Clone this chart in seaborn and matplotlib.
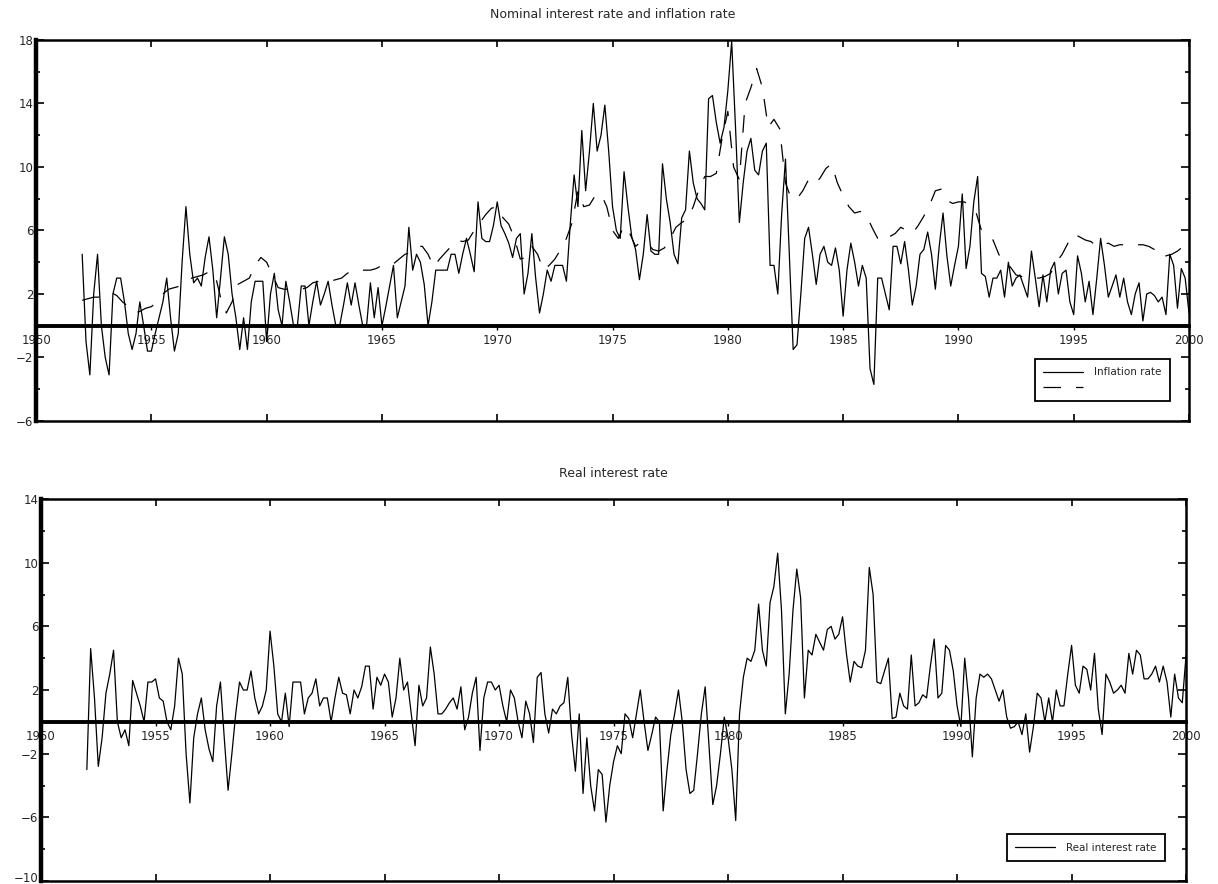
import numpy as np
import pandas as pd
import matplotlib
matplotlib.use("Agg")
import matplotlib.pyplot as plt
import matplotlib.transforms as mtransforms
import seaborn as sns

start_year = 1952
inflation = [
    4.5, -1.0, -3.1, 2.0, 4.5, 0.0, -2.0, -3.1, 2.0, 3.0,
    3.0, 1.5, -0.5, -1.5, -0.5, 1.5, 0.0, -1.6, -1.6, -0.5,
    0.5, 1.5, 3.0, 0.5, -1.6, -0.5, 4.0, 7.5, 4.5, 2.7,
    3.0, 2.5, 4.3, 5.6, 3.5, 0.5, 3.0, 5.6, 4.5, 2.0,
    0.5, -1.5, 0.5, -1.5, 1.5, 2.8, 2.8, 2.8, -1.0, 2.0,
    3.3, 1.0, 0.0, 2.8, 1.5, 0.0, 0.0, 2.5, 2.5, 0.0,
    1.5, 2.8, 1.3, 2.0, 2.8, 1.3, 0.0, 0.0, 1.3, 2.7,
    1.3, 2.7, 1.3, 0.0, 0.0, 2.7, 0.5, 2.4, 0.0, 1.2,
    2.5, 3.8, 0.5, 1.5, 2.5, 6.2, 3.5, 4.5, 4.0, 2.6,
    0.0, 1.5, 3.5, 3.5, 3.5, 3.5, 4.5, 4.5, 3.3, 4.5,
    5.5, 4.5, 3.4, 7.8, 5.5, 5.3, 5.3, 6.3, 7.8, 6.3,
    5.8, 5.2, 4.3, 5.5, 5.8, 2.0, 3.3, 5.8, 3.0, 0.8,
    2.0, 3.5, 2.8, 3.8, 3.8, 3.8, 2.8, 6.4, 9.5, 7.5,
    12.3, 8.5, 11.0, 14.0, 11.0, 12.0, 13.9, 11.0, 7.5, 6.0,
    5.5, 9.7, 7.5, 5.6, 4.8, 2.9, 4.5, 7.0, 4.7, 4.5,
    4.5, 10.2, 8.0, 6.5, 4.5, 3.9, 6.8, 7.3, 11.0, 9.0,
    8.0, 7.7, 7.3, 14.3, 14.5, 12.8, 11.5, 12.5, 14.8, 17.9,
    12.5, 6.5, 9.0, 11.0, 11.8, 9.8, 9.5, 11.0, 11.5, 3.8,
    3.8, 2.0, 7.0, 10.5, 4.5, -1.5, -1.2, 2.0, 5.5, 6.2,
    4.5, 2.6, 4.5, 5.0, 4.0, 3.8, 4.9, 3.5, 0.6, 3.5,
    5.2, 4.0, 2.5, 3.8, 3.0, -2.7, -3.7, 3.0, 3.0, 2.0,
    1.0, 5.0, 5.0, 3.9, 5.3, 3.5, 1.3, 2.5, 4.5, 4.8,
    5.9, 4.5, 2.3, 5.0, 7.1, 4.4, 2.5, 3.8, 5.0, 8.3,
    3.6, 5.0, 7.8, 9.4, 3.3, 3.1, 1.8, 3.0, 3.0, 3.5,
    1.8, 4.0, 2.5, 3.0, 3.2, 2.5, 1.8, 4.7, 3.0, 1.2,
    3.2, 1.5, 3.5, 4.0, 2.0, 3.3, 3.5, 1.5, 0.7, 4.4,
    3.3, 1.5, 2.8, 0.7, 3.0, 5.5, 3.8, 1.8, 2.5, 3.2,
    1.8, 3.0, 1.5, 0.7, 2.0, 2.7, 0.3, 2.0, 2.1, 1.9,
    1.5, 1.8, 0.7, 4.5, 3.8, 1.1, 3.6, 3.0, 0.8,
]
real_rate = [
    -3.0, 4.6, 1.5, -2.8, -1.0, 1.8, 3.0, 4.5, 0.0, -1.0,
    -0.5, -1.5, 2.6, 1.8, 1.0, 0.0, 2.5, 2.5, 2.7, 1.5,
    1.3, 0.0, -0.5, 1.0, 4.0, 3.0, -2.0, -5.1, -1.0, 0.5,
    1.5, -0.5, -1.7, -2.5, 1.0, 2.5, -1.0, -4.3, -2.0, 0.5,
    2.5, 2.0, 2.0, 3.2, 1.5, 0.5, 1.0, 2.0, 5.7, 3.5,
    0.5, 0.0, 1.8, -0.3, 2.5, 2.5, 2.5, 0.5, 1.5, 1.8,
    2.7, 1.0, 1.5, 1.5, 0.0, 1.5, 2.8, 1.8, 1.7, 0.5,
    2.0, 1.5, 2.2, 3.5, 3.5, 0.8, 2.8, 2.3, 3.0, 2.5,
    0.3, 1.5, 4.0, 2.0, 2.5, 0.5, -1.5, 2.3, 1.0, 1.5,
    4.7, 3.0, 0.5, 0.5, 0.8, 1.2, 1.5, 0.8, 2.2, -0.5,
    0.3, 1.8, 2.8, -1.8, 1.5, 2.5, 2.5, 2.0, 2.3, 1.0,
    0.0, 2.0, 1.5, 0.0, -1.0, 1.3, 0.5, -1.3, 2.8, 3.1,
    0.5, -0.7, 0.8, 0.5, 1.0, 1.2, 2.8, -0.8, -3.1, 0.5,
    -4.5, -1.0, -4.0, -5.6, -3.0, -3.3, -6.3, -4.0, -2.5, -1.5,
    -2.0, 0.5, 0.2, -1.0, 0.5, 2.0, 0.0, -1.8, -0.8, 0.3,
    0.0, -5.6, -3.0, -0.8, 0.5, 2.0, 0.0, -3.0, -4.5, -4.3,
    -2.0, 0.5, 2.2, -1.5, -5.2, -4.0, -2.0, 0.3, -1.0, -3.0,
    -6.2, 0.5, 2.8, 4.0, 3.8, 4.5, 7.4, 4.5, 3.5, 7.5,
    8.5, 10.6, 7.0, 0.5, 3.0, 7.0, 9.6, 7.8, 1.5, 4.5,
    4.2, 5.5, 5.0, 4.5, 5.8, 6.0, 5.2, 5.5, 6.6, 4.3,
    2.5, 3.8, 3.5, 3.4, 4.5, 9.7, 8.0, 2.5, 2.4, 3.2,
    4.0, 0.2, 0.3, 1.8, 1.0, 0.8, 4.2, 1.0, 1.2, 1.7,
    1.5, 3.5, 5.2, 1.5, 1.8, 4.8, 4.5, 3.2, 1.0, -0.3,
    4.0, 1.5, -2.2, 1.5, 3.0, 2.8, 3.0, 2.7, 2.0, 1.3,
    2.0, 0.3, -0.4, -0.3, 0.0, -0.8, 0.5, -1.9, -0.3, 1.8,
    1.5, 0.0, 1.5, 0.0, 2.0, 1.0, 1.0, 3.0, 4.8, 2.3,
    1.8, 3.5, 3.3, 2.0, 4.3, 0.8, -0.8, 3.0, 2.5, 1.8,
    2.0, 2.3, 1.8, 4.3, 3.0, 4.5, 4.2, 2.7, 2.7, 3.0,
    3.5, 2.5, 3.5, 2.5, 0.3, 3.0, 1.5, 1.2, 4.2,
]
# quarterly observations from 1952 to 2000
nominal = [
    1.6, 1.7, 1.8, 1.8,  2.0, 2.1, 1.9, 1.5,  1.2, 0.8, 0.9, 1.1,
    1.2, 1.5, 2.0, 2.3,  2.4, 2.5, 2.7, 3.0,  3.1, 3.2, 3.4, 3.3,
    1.8, 0.8, 1.5, 2.6,  2.8, 3.0, 3.8, 4.3,  4.0, 3.2, 2.4, 2.3,
    2.3, 2.3, 2.3, 2.4,  2.7, 2.8, 2.8, 2.8,  2.9, 3.0, 3.3, 3.5,
    3.5, 3.5, 3.5, 3.6,  3.8, 3.9, 3.9, 4.2,  4.5, 4.6, 5.0, 5.0,
    4.5, 3.7, 4.2, 4.6,  5.0, 5.4, 5.3, 5.4,  6.0, 6.5, 7.0, 7.4,
    7.5, 6.8, 6.4, 5.5,  4.2, 4.3, 5.0, 4.5,  3.5, 3.8, 4.2, 4.8,
    5.5, 6.5, 8.5, 7.5,  7.6, 8.2, 8.3, 7.5,  6.0, 5.5, 6.3, 5.8,
    5.0, 5.3, 5.2, 4.8,  4.7, 4.9, 5.5, 6.2,  6.5, 6.7, 7.5, 8.6,
    9.4, 9.4, 9.6, 11.8,  13.5, 10.0, 9.2, 14.0,  15.0, 16.2, 15.0, 12.5,
    13.0, 12.4, 9.0, 8.0,  8.0, 8.5, 9.2, 8.9,  9.3, 9.9, 10.2, 9.0,
    8.2, 7.5, 7.1, 7.2,  7.0, 6.2, 5.5, 5.3,  5.6, 5.8, 6.2, 6.0,
    5.8, 6.3, 6.9, 7.6,  8.5, 8.6, 7.9, 7.7,  7.8, 7.8, 7.6, 7.2,
    6.0, 5.6, 5.4, 4.5,  3.9, 3.7, 3.2, 3.1,  3.0, 3.0, 3.0, 3.1,
    3.3, 4.0, 4.5, 5.2,  5.8, 5.6, 5.4, 5.3,  5.0, 5.1, 5.2, 5.0,
    5.1, 5.1, 5.1, 5.1,  5.1, 5.0, 4.8, 4.3,  4.4, 4.5, 4.7, 5.0,
    5.6,
]

year_ticks = list(range(1950, 2001, 5))
top_yticks = [-6, -2, 2, 6, 10, 14, 18]
bottom_yticks = [-10, -6, -2, 2, 6, 10, 14]

monthly = pd.DataFrame({
    "year": start_year + np.arange(len(inflation)) / 6,
    "inflation": inflation,
    "real": real_rate,
})
quarterly = pd.DataFrame({
    "year": start_year + np.arange(len(nominal)) / 4,
    "nominal": nominal,
})

sns.set_theme(style="white")
plt.rcParams['font.family'] = ['DejaVu Sans']

fig = plt.figure(figsize=(12.18, 8.84), dpi=100)
ax1 = fig.add_axes([0.0296, 0.5238, 0.9466, 0.4310])
ax2 = fig.add_axes([0.0337, 0.0034, 0.9401, 0.4321])

sns.lineplot(data=monthly, x="year", y="inflation", ax=ax1, color="black",
             linewidth=0.9, label="Inflation rate")
sns.lineplot(data=quarterly, x="year", y="nominal", ax=ax1, color="black",
             linewidth=0.9, linestyle=(0, (14, 12)), label=" ")
sns.lineplot(data=monthly, x="year", y="real", ax=ax2, color="black",
             linewidth=0.9, label="Real interest rate")


def style_panel(ax, yticks, title):
    lo, hi = yticks[0], yticks[-1]
    ax.set_xlim(1950, 2000)
    ax.set_ylim(lo, hi)
    ax.set_xlabel("")
    ax.set_ylabel("")
    ax.set_title(title, fontsize=9, pad=16)
    for side in ["top", "right", "bottom"]:
        ax.spines[side].set_linewidth(1.8)
        ax.spines[side].set_color("black")
    ax.spines["left"].set_linewidth(3.2)
    ax.spines["left"].set_color("black")

    ax.set_yticks(yticks)
    ax.set_yticks(np.arange(lo, hi + 1, 2), minor=True)
    ax.tick_params(axis="y", which="both", direction="in", left=True,
                   right=True, labelsize=8.5, color="black", width=1.2,
                   pad=2)
    ax.tick_params(axis="y", which="major", length=6)
    ax.tick_params(axis="y", which="minor", length=3)

    ax.set_xticks(year_ticks)
    ax.tick_params(axis="x", direction="in", top=True, bottom=True,
                   labelbottom=False, length=5, width=1.2, color="black")

    # year labels sit along the zero line
    zero = ax.secondary_xaxis((0 - lo) / (hi - lo))
    zero.set_xticks(year_ticks)
    zero.spines["bottom"].set_linewidth(2.8)
    zero.spines["bottom"].set_color("black")
    zero.spines["top"].set_visible(False)
    zero.tick_params(direction="out", length=3, width=1.0, labelsize=8.5,
                     pad=3, color="black")


style_panel(ax1, top_yticks, "Nominal interest rate and inflation rate")
style_panel(ax2, bottom_yticks, "Real interest rate")

# keep the lowest label of the bottom panel inside the picture
fig.canvas.draw()
lowest = ax2.get_yticklabels()[0]
lowest.set_transform(lowest.get_transform() +
                     mtransforms.ScaledTranslation(0, 3 / 72,
                                                   fig.dpi_scale_trans))

for ax, anchor in [(ax1, (0.988, 0.039)), (ax2, (0.986, 0.039))]:
    leg = ax.legend(loc="lower right", bbox_to_anchor=anchor, fontsize=7.5,
                    frameon=True, fancybox=False, edgecolor="black",
                    framealpha=1, handlelength=3.8, borderpad=0.8,
                    labelspacing=0.5, handletextpad=1.1)
    leg.get_frame().set_linewidth(1.3)

fig.savefig("out.png", dpi=100)
